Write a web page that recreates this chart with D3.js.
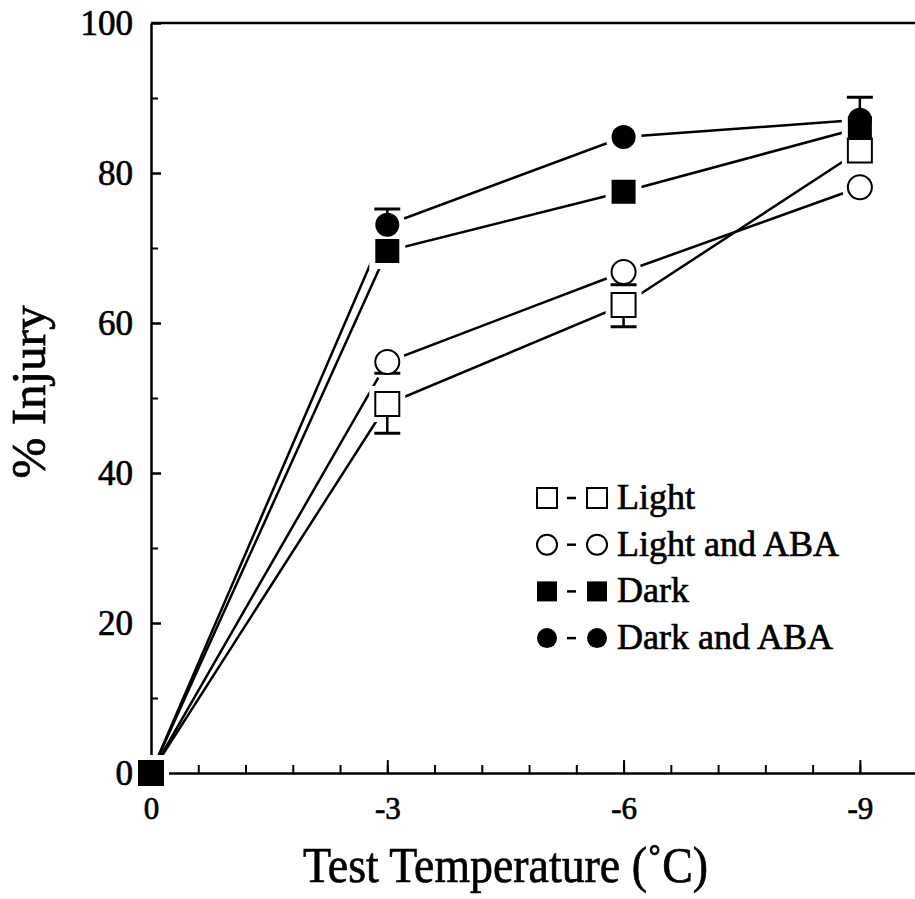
<!DOCTYPE html>
<html>
<head>
<meta charset="utf-8">
<script src="https://d3js.org/d3.v7.min.js"></script>
<style>
  body { margin: 0; background: #fff; }
  text { font-family: "Liberation Serif", "Times New Roman", serif; fill: #000; stroke: #000; stroke-width: 0.7px; }
</style>
</head>
<body>
<svg id="chart" width="915" height="899"></svg>
<script>
// data
var temps = [0, -3, -6, -9];
var light = [0, 49.2, 62.4, 83.0];
var lightErr = [0, -3.9, -2.9, 0];      // negative = bar drawn downward
var lightABA = [0, 54.8, 66.8, 78.1];
var lightABAErr = [0, -1.5, -1.7, 0];
var dark = [0, 69.6, 77.5, 86.0];
var darkErr = [0, 0, 0, 0];
var darkABA = [0, 73.1, 84.8, 87.1];
var darkABAErr = [0, 2.1, 0, 3.0];
var xTicks = [0, -3, -6, -9];
var yTicks = [0, 20, 40, 60, 80, 100];

var series = [
  { name: "Light", values: light, err: lightErr, shape: "square", filled: false },
  { name: "Light and ABA", values: lightABA, err: lightABAErr, shape: "circle", filled: false },
  { name: "Dark", values: dark, err: darkErr, shape: "square", filled: true },
  { name: "Dark and ABA", values: darkABA, err: darkABAErr, shape: "circle", filled: true }
];

var svg = d3.select("#chart");
var x = d3.scaleLinear().domain([0, -9.7]).range([151, 915]);
var y = d3.scaleLinear().domain([0, 100]).range([773, 23]);

// frame: top line
svg.append("line").attr("x1", x(0)).attr("x2", 915).attr("y1", y(100)).attr("y2", y(100))
  .attr("stroke", "#000").attr("stroke-width", 2.5);

// minor ticks
svg.append("g").attr("transform", "translate(0," + y(0) + ")")
  .call(d3.axisBottom(x).tickValues(d3.range(0, 16).map(function (i) { return -0.6 * i; }))
    .tickSize(-8).tickFormat(""))
  .call(function (g) { g.select(".domain").remove(); g.selectAll("line").attr("stroke-width", 2); });
svg.append("g").attr("transform", "translate(" + x(0) + ",0)")
  .call(d3.axisLeft(y).tickValues([10, 30, 50, 70, 90]).tickSize(-7).tickFormat(""))
  .call(function (g) { g.select(".domain").remove(); g.selectAll("line").attr("stroke-width", 2); });

// major axes
svg.append("g").attr("transform", "translate(0," + y(0) + ")")
  .call(d3.axisBottom(x).tickValues(xTicks).tickSize(-13).tickSizeOuter(0).tickPadding(24).tickFormat(d3.format("d")))
  .call(function (g) {
    g.select(".domain").attr("stroke-width", 2.5);
    g.selectAll("line").attr("stroke-width", 2);
    g.selectAll("text").style("font-size", "31px").text(function (d) { return d === 0 ? "0" : "-" + Math.abs(d); });
  });
svg.append("g").attr("transform", "translate(" + x(0) + ",0)")
  .call(d3.axisLeft(y).tickValues(yTicks).tickSize(-10).tickSizeOuter(0).tickPadding(18))
  .call(function (g) {
    g.select(".domain").attr("stroke-width", 2.5);
    g.selectAll("line").attr("stroke-width", 2.5);
    g.selectAll("text").style("font-size", "35px");
  });

// axis titles
svg.append("text").attr("x", 303).attr("y", 882)
  .attr("textLength", 405).attr("lengthAdjust", "spacingAndGlyphs")
  .style("font-size", "51px").text("Test Temperature (\u02DAC)");
svg.append("text").attr("transform", "translate(45,392) rotate(-90)").attr("text-anchor", "middle")
  .style("font-size", "49px").text("% Injury");

// lines
var line = d3.line().x(function (d, i) { return x(temps[i]); }).y(function (d) { return y(d); });
svg.append("g").selectAll("path").data(series).enter().append("path")
  .attr("d", function (s) { return line(s.values); })
  .attr("fill", "none").attr("stroke", "#000").attr("stroke-width", 2.5);

function drawMarker(g, s, px, py, size, halo) {
  var r = size / 2;
  var m;
  if (s.shape === "square") {
    m = g.append("rect").attr("x", px - r).attr("y", py - r).attr("width", size).attr("height", size);
  } else {
    m = g.append("circle").attr("cx", px).attr("cy", py).attr("r", r);
  }
  if (halo) {
    m.attr("fill", "#fff").attr("stroke", "#fff").attr("stroke-width", 12);
  } else {
    m.attr("fill", s.filled ? "#000" : "#fff").attr("stroke", "#000").attr("stroke-width", s.filled ? 0 : 2);
  }
}

var points = [];
series.forEach(function (s) {
  s.values.forEach(function (v, i) { points.push({ s: s, t: temps[i], v: v, e: s.err[i] }); });
});

// halos behind markers
var halo = svg.append("g");
points.forEach(function (p) { drawMarker(halo, p.s, x(p.t), y(p.v), 24, true); });

// error bars
var eg = svg.append("g").attr("stroke", "#000");
points.filter(function (p) { return p.e !== 0; }).forEach(function (p) {
  eg.append("line").attr("x1", x(p.t)).attr("x2", x(p.t)).attr("y1", y(p.v)).attr("y2", y(p.v + p.e))
    .attr("stroke-width", 2.5);
  eg.append("line").attr("x1", x(p.t) - 13).attr("x2", x(p.t) + 13).attr("y1", y(p.v + p.e)).attr("y2", y(p.v + p.e))
    .attr("stroke-width", 3);
});

// markers
var mg = svg.append("g");
points.forEach(function (p) { drawMarker(mg, p.s, x(p.t), y(p.v), 24, false); });

// legend
var leg = svg.append("g");
series.forEach(function (s, i) {
  var cy = 498 + i * 46.7;
  drawMarker(leg, s, 547, cy, 20, false);
  leg.append("line").attr("x1", 567).attr("x2", 576).attr("y1", cy).attr("y2", cy)
    .attr("stroke", "#000").attr("stroke-width", 2.5);
  drawMarker(leg, s, 597, cy, 20, false);
  leg.append("text").attr("x", 617).attr("y", cy + 11).style("font-size", "36px").text(s.name);
});
</script>
</body>
</html>
